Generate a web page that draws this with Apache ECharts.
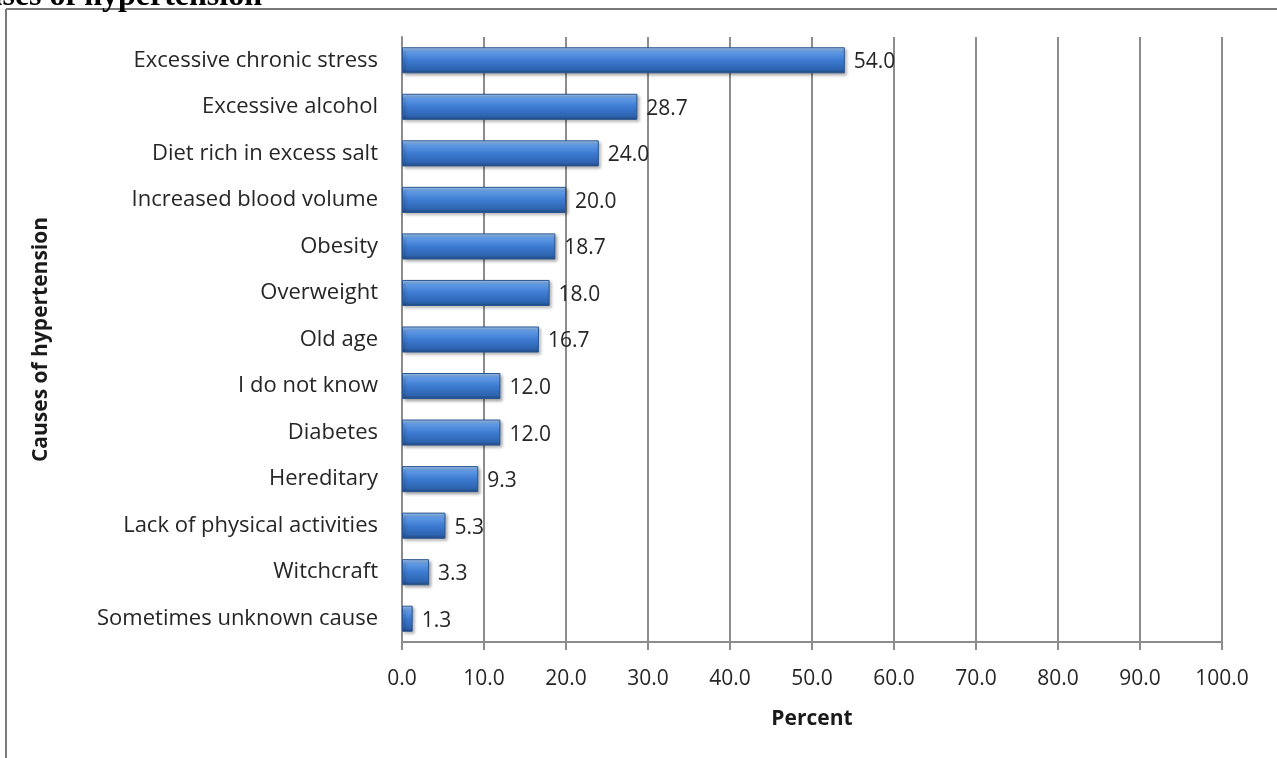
<!DOCTYPE html>
<html>
<head>
<meta charset="utf-8">
<script src="https://cdn.jsdelivr.net/npm/echarts@6/dist/echarts.min.js"></script>
<style>
html,body{margin:0;padding:0;background:#fff;}
#chart{width:1277px;height:758px;}
</style>
</head>
<body>
<div id="chart"></div>
<script>
const categories = ["Excessive chronic stress","Excessive alcohol","Diet rich in excess salt","Increased blood volume","Obesity","Overweight","Old age","I do not know","Diabetes","Hereditary","Lack of physical activities","Witchcraft","Sometimes unknown cause"];
const percentValues = [54.0, 28.7, 24.0, 20.0, 18.7, 18.0, 16.7, 12.0, 12.0, 9.3, 5.3, 3.3, 1.3];
const xTicks = {min: 0, max: 100, interval: 10};

const chart = echarts.init(document.getElementById('chart'), null, {renderer: 'canvas'});
const font = '"Open Sans", "Noto Sans", sans-serif';
chart.setOption({
  animation: false,
  backgroundColor: '#fff',
  grid: {left: 402, right: 55, top: 37, bottom: 116, containLabel: false},
  xAxis: {
    type: 'value', min: xTicks.min, max: xTicks.max, interval: xTicks.interval,
    name: 'Percent', nameLocation: 'middle', nameGap: 67,
    nameTextStyle: {fontFamily: font, fontSize: 21, fontWeight: 'bold', color: '#1a1a1a'},
    axisLine: {show: true, lineStyle: {color: '#8c8c8c', width: 2}},
    axisTick: {show: true, length: 8, lineStyle: {color: '#8c8c8c', width: 2}},
    axisLabel: {fontFamily: font, fontSize: 21, color: '#262626', margin: 27, formatter: v => v.toFixed(1)},
    splitLine: {show: true, lineStyle: {color: '#8c8c8c', width: 2}}
  },
  yAxis: {
    type: 'category', data: categories, inverse: true,
    name: 'Causes of hypertension', nameLocation: 'middle', nameGap: 350, nameRotate: 90,
    nameTextStyle: {fontFamily: font, fontSize: 21, fontWeight: 'bold', color: '#1a1a1a'},
    axisLine: {show: true, lineStyle: {color: '#8c8c8c', width: 2}},
    axisTick: {show: false},
    axisLabel: {fontFamily: font, fontSize: 22, color: '#262626', margin: 24}
  },
  series: [{
    type: 'bar', data: percentValues, barCategoryGap: '44%',
    itemStyle: {
      color: new echarts.graphic.LinearGradient(0, 0, 0, 1, [
        {offset: 0, color: '#aacdf5'},
        {offset: 0.18, color: '#619be6'},
        {offset: 0.5, color: '#3d7bd2'},
        {offset: 0.85, color: '#2e64b0'},
        {offset: 1, color: '#1f4880'}
      ]),
      borderColor: '#2a5590', borderWidth: 1,
      shadowColor: 'rgba(0,0,0,0.35)', shadowBlur: 3, shadowOffsetX: 2, shadowOffsetY: 2
    },
    label: {show: true, position: 'right', distance: 9, offset: [0, 2], fontFamily: font, fontSize: 21, color: '#262626', formatter: p => p.value.toFixed(1)}
  }],
  graphic: [
    {type: 'line', shape: {x1: 6, y1: 9, x2: 1277, y2: 9}, style: {stroke: '#7a7a7a', lineWidth: 2}},
    {type: 'line', shape: {x1: 6, y1: 9, x2: 6, y2: 758}, style: {stroke: '#7a7a7a', lineWidth: 2}},
    {type: 'text', style: {x: 262, y: -3, align: 'right', verticalAlign: 'middle', text: 'Causes of hypertension', font: 'bold 32px "Liberation Serif", serif', fill: '#000'}}
  ]
});
</script>
</body>
</html>
